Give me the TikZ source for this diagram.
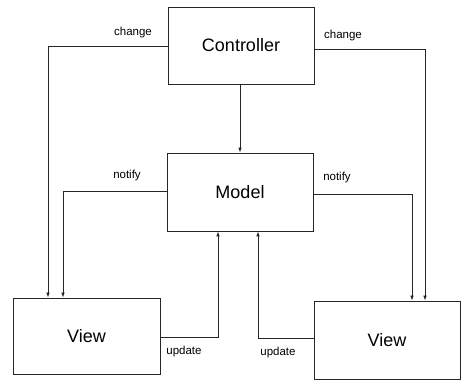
\documentclass[tikz,border=0pt]{standalone}
\usepackage{fontspec}
\setmainfont{Liberation Sans}
\usetikzlibrary{arrows.meta}
\begin{document}
\begin{tikzpicture}[x=1pt,y=-1pt,
  box/.style={draw=black!85,line width=0.8pt,rectangle,inner sep=0pt,
    font=\fontsize{18}{20}\selectfont},
  link/.style={draw=black!85,line width=0.7pt,-{Latex[length=5pt,width=3.5pt]}},
  tag/.style={font=\fontsize{11.5}{13}\selectfont,inner sep=0pt}]
\useasboundingbox (0,0) rectangle (462,382);

% components
\node[box,minimum width=146pt,minimum height=77pt] (ctrl) at (241,45.5) {Controller};
\node[box,minimum width=146pt,minimum height=78pt] (model) at (240,192) {Model};
\node[box,minimum width=147pt,minimum height=76pt] (viewl) at (86.5,336) {View};
\node[box,minimum width=146pt,minimum height=78pt] (viewr) at (387,340) {View};

% controller changes the views and the model
\draw[link] (ctrl.west |- 0,46) -| (48,0 |- viewl.north);
\draw[link] (ctrl.east |- 0,49) -| (425,0 |- viewr.north);
\draw[link] (240,0 |- ctrl.south) -- (240,0 |- model.north);

% model notifies the views
\draw[link] (model.west |- 0,191) -| (63,0 |- viewl.north);
\draw[link] (model.east |- 0,194) -| (412,0 |- viewr.north);

% views update the model
\draw[link] (viewl.east |- 0,337) -| (218,0 |- model.south);
\draw[link] (viewr.west |- 0,338) -| (258,0 |- model.south);

% labels
\node[tag] (tchl) at (133,33) {change};
\node[tag] (tchr) at (343,36) {change};
\node[tag] (tnol) at (127,176) {notify};
\node[tag] (tnor) at (337,178) {notify};
\node[tag] (tupl) at (184,352) {update};
\node[tag] (tupr) at (278,353) {update};
\end{tikzpicture}
\end{document}
